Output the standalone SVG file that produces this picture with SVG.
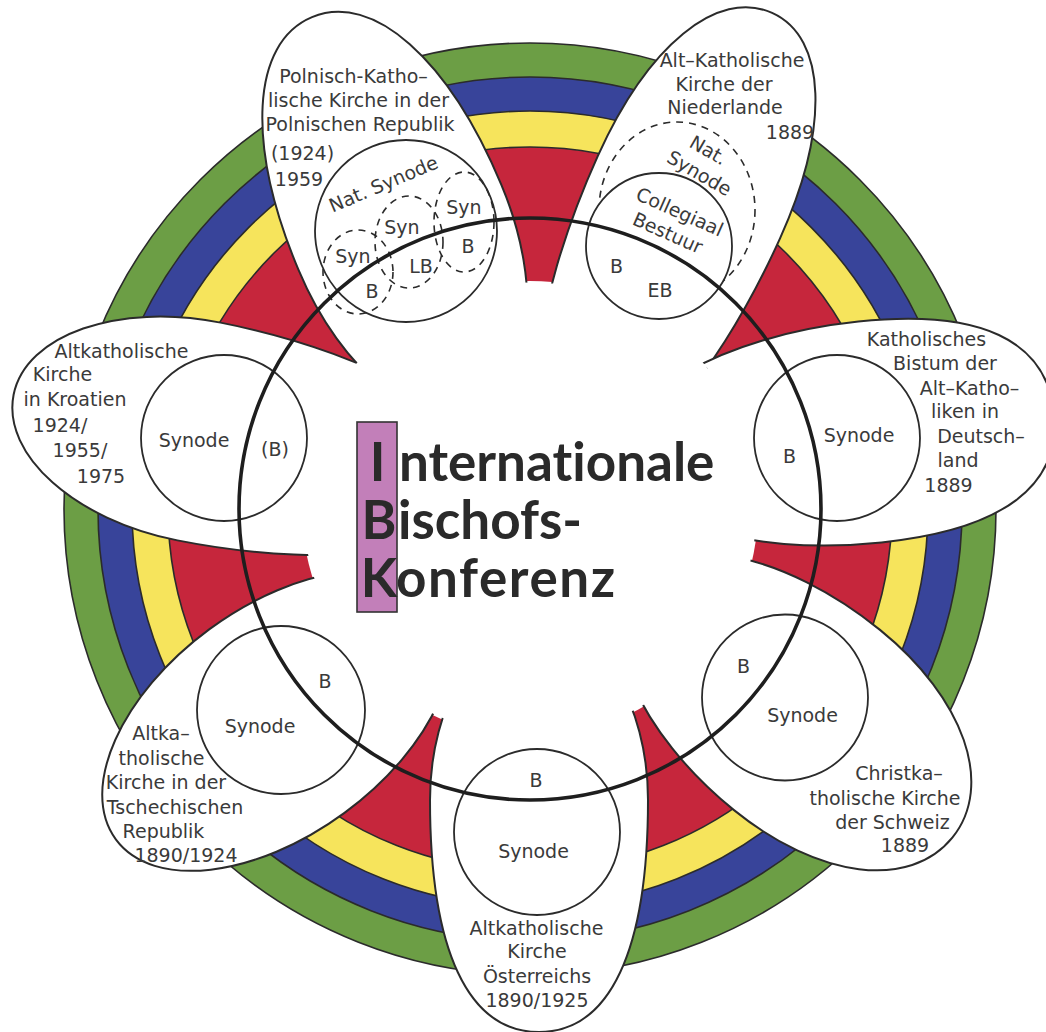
<svg xmlns="http://www.w3.org/2000/svg" width="1046" height="1032" viewBox="0 0 1046 1032">
<style>
.ring{stroke:#2b2b2b;stroke-width:1.6}
.petal{fill:#fff;stroke:#2b2b2b;stroke-width:2}
.inner{fill:#fff;stroke:#2b2b2b;stroke-width:1.8}
.dash{fill:none;stroke:#2b2b2b;stroke-width:1.6;stroke-dasharray:7 6}
.lbl{font-family:"DejaVu Sans","Liberation Sans",sans-serif;font-size:19px;fill:#3a3a3a;text-anchor:middle}
.title{font-family:Lato,"Open Sans","Liberation Sans",sans-serif;font-weight:700;font-size:53px;fill:#2a2a2a;font-variant-ligatures:none;font-feature-settings:"liga" 0,"clig" 0}
</style>
<defs>
<clipPath id="outside">
<path clip-rule="evenodd" d="M0,0H1046V1032H0Z M756.5,509 A226.5,226.5 0 1,0 303.5,509 A226.5,226.5 0 1,0 756.5,509Z"/>
</clipPath>
</defs>
<rect width="1046" height="1032" fill="#fff"/>
<g id="rings">
<circle cx="530" cy="509" r="466" fill="#6c9e45" class="ring"/>
<circle cx="530" cy="509" r="432" fill="#38449a" class="ring"/>
<circle cx="530" cy="509" r="398" fill="#f6e45c" class="ring"/>
<circle cx="530" cy="509" r="362" fill="#c6263c" class="ring"/>
<circle cx="530" cy="509" r="228" fill="#fff"/>
</g>

<g id="node-polen">
<g clip-path="url(#outside)"><path class="petal" transform="translate(400 227.5) rotate(-112.7)" d="M0,-110 C136.8,-110 228,-66 228,0 C228,66 136.8,110 0,110 C-110.4,110 -200,60.7 -200,0 C-200,-60.7 -110.4,-110 0,-110Z"/></g>
<circle class="inner" cx="406" cy="231" r="91"/>
<ellipse class="dash" cx="358" cy="272" rx="35" ry="42"/>
<ellipse class="dash" cx="409" cy="242" rx="34" ry="46"/>
<ellipse class="dash" cx="464" cy="222" rx="30" ry="50"/>
<text class="lbl" x="353.5" y="83">Polnisch-Katho–</text>
<text class="lbl" x="358.5" y="107">lische Kirche in der</text>
<text class="lbl" x="360" y="131">Polnischen Republik</text>
<text class="lbl" x="302.5" y="160">(1924)</text>
<text class="lbl" x="299" y="186">1959</text>
<text class="lbl" transform="translate(386 190) rotate(-23)" x="0" y="0">Nat. Synode</text>
<text class="lbl" x="353" y="263">Syn</text>
<text class="lbl" x="372" y="298">B</text>
<text class="lbl" x="402" y="234">Syn</text>
<text class="lbl" x="421" y="273">LB</text>
<text class="lbl" x="464" y="214">Syn</text>
<text class="lbl" x="468" y="253">B</text>
</g>

<g id="node-niederlande">
<g clip-path="url(#outside)"><path class="petal" transform="translate(689 197) rotate(-65.7)" d="M0,-100 C121.2,-100 202,-60 202,0 C202,60 121.2,100 0,100 C-165.6,100 -300,55.2 -300,0 C-300,-55.2 -165.6,-100 0,-100Z"/></g>
<ellipse class="dash" cx="677" cy="210" rx="78" ry="88"/>
<circle class="inner" cx="659" cy="246" r="73"/>
<text class="lbl" x="732" y="67">Alt–Katholische</text>
<text class="lbl" x="724" y="91">Kirche der</text>
<text class="lbl" x="725" y="114">Niederlande</text>
<text class="lbl" x="790" y="139">1889</text>
<text class="lbl" transform="translate(705 156) rotate(30)" x="0" y="0">Nat.</text>
<text class="lbl" transform="translate(696 179) rotate(30)" x="0" y="0">Synode</text>
<text class="lbl" transform="translate(677 218) rotate(24)" x="0" y="0">Collegiaal</text>
<text class="lbl" transform="translate(665 239) rotate(24)" x="0" y="0">Bestuur</text>
<text class="lbl" x="616.5" y="273">B</text>
<text class="lbl" x="660" y="297">EB</text>
</g>

<g id="node-deutschland">
<g clip-path="url(#outside)"><path class="petal" transform="translate(870 432) rotate(-6)" d="M0,-111 C122.1,-111 185,-73.3 185,0 C185,73.3 122.1,111 0,111 C-138,111 -250,61.3 -250,0 C-250,-61.3 -138,-111 0,-111Z"/></g>
<circle class="inner" cx="837" cy="438" r="83"/>
<text class="lbl" x="926.5" y="346">Katholisches</text>
<text class="lbl" x="945" y="370">Bistum der</text>
<text class="lbl" x="969.5" y="395">Alt–Katho–</text>
<text class="lbl" x="965" y="418">liken in</text>
<text class="lbl" x="981" y="443">Deutsch–</text>
<text class="lbl" x="958" y="467">land</text>
<text class="lbl" x="948.5" y="492">1889</text>
<text class="lbl" x="789.5" y="463">B</text>
<text class="lbl" x="859" y="442">Synode</text>
</g>

<g id="node-schweiz">
<g clip-path="url(#outside)"><path class="petal" transform="translate(807 720) rotate(39)" d="M0,-116 C108.5,-116 187,-67.3 187,0 C187,67.3 108.5,116 0,116 C-123.1,116 -223,64 -223,0 C-223,-64 -123.1,-116 0,-116Z"/></g>
<circle class="inner" cx="785" cy="697.5" r="83"/>
<text class="lbl" x="743.5" y="673">B</text>
<text class="lbl" x="802.5" y="722">Synode</text>
<text class="lbl" x="899" y="780">Christka–</text>
<text class="lbl" x="885" y="805">tholische Kirche</text>
<text class="lbl" x="892.5" y="829">der Schweiz</text>
<text class="lbl" x="905" y="852">1889</text>
</g>

<g id="node-oesterreich">
<g clip-path="url(#outside)"><path class="petal" transform="translate(539 800) rotate(90)" d="M0,-109 C150.8,-109 232,-70.9 232,0 C232,70.9 150.8,109 0,109 C-96.6,109 -175,60.2 -175,0 C-175,-60.2 -96.6,-109 0,-109Z"/></g>
<circle class="inner" cx="537" cy="832" r="83"/>
<text class="lbl" x="536" y="787">B</text>
<text class="lbl" x="533.5" y="858">Synode</text>
<text class="lbl" x="536.5" y="935">Altkatholische</text>
<text class="lbl" x="537" y="958">Kirche</text>
<text class="lbl" x="537" y="983">Österreichs</text>
<text class="lbl" x="537" y="1007">1890/1925</text>
</g>

<g id="node-tschechien">
<g clip-path="url(#outside)"><path class="petal" transform="translate(277 721) rotate(143.7)" d="M0,-114 C110.4,-114 200,-62.9 200,0 C200,62.9 110.4,114 0,114 C-110.4,114 -200,62.9 -200,0 C-200,-62.9 -110.4,-114 0,-114Z"/></g>
<circle class="inner" cx="281" cy="710" r="84"/>
<text class="lbl" x="325" y="688">B</text>
<text class="lbl" x="260" y="733">Synode</text>
<text class="lbl" x="161" y="740">Altka–</text>
<text class="lbl" x="161.5" y="765">tholische</text>
<text class="lbl" x="166" y="789">Kirche in der</text>
<text class="lbl" x="175" y="814">Tschechischen</text>
<text class="lbl" x="163.5" y="838">Republik</text>
<text class="lbl" x="186" y="862">1890/1924</text>
</g>

<g id="node-kroatien">
<g clip-path="url(#outside)"><path class="petal" transform="translate(199 431.5) rotate(191.2)" d="M0,-111 C104.3,-111 189,-61.3 189,0 C189,61.3 104.3,111 0,111 C-165.6,111 -300,61.3 -300,0 C-300,-61.3 -165.6,-111 0,-111Z"/></g>
<circle class="inner" cx="224" cy="438" r="83"/>
<text class="lbl" x="121.5" y="358">Altkatholische</text>
<text class="lbl" x="62.5" y="381">Kirche</text>
<text class="lbl" x="75" y="406">in Kroatien</text>
<text class="lbl" x="60" y="432">1924/</text>
<text class="lbl" x="80" y="457">1955/</text>
<text class="lbl" x="101" y="483">1975</text>
<text class="lbl" x="194" y="447">Synode</text>
<text class="lbl" x="275" y="456">(B)</text>
</g>

<g id="ibk-circle">
<circle cx="530" cy="509" r="291" fill="none" stroke="#1e1e1e" stroke-width="3.6"/>
</g>

<g id="title">
<rect x="357" y="422" width="40" height="190" fill="#c27fb9" stroke="#333" stroke-width="1.6"/>
<text class="title" y="481"><tspan x="377.5" text-anchor="middle">I</tspan><tspan x="399">nternationale</tspan></text>
<text class="title" y="539"><tspan x="379" text-anchor="middle">B</tspan><tspan x="398">ischofs-</tspan></text>
<text class="title" y="597"><tspan x="379" text-anchor="middle">K</tspan><tspan x="396" style="letter-spacing:1.6px">onferenz</tspan></text>
</g>
</svg>
